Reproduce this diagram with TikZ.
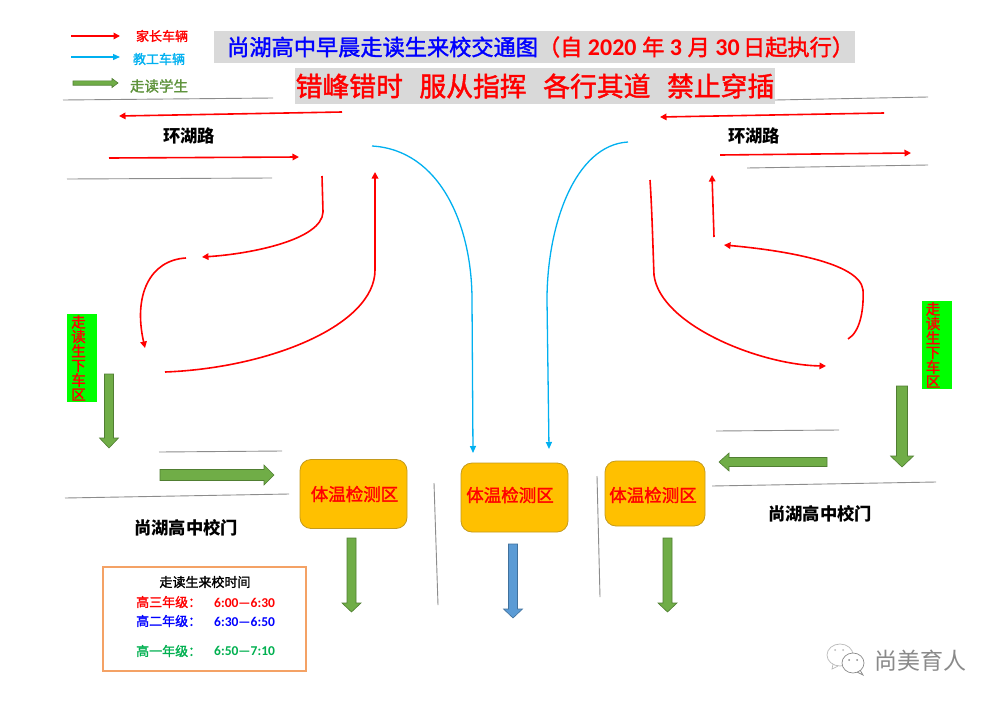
\documentclass[tikz,border=0pt]{standalone}
\usepackage{fontspec}
\setmainfont{Carlito}
\newfontfamily\cjk{Noto Sans CJK SC}
\newfontfamily\cjkm[FakeBold=1.6]{Noto Sans CJK SC}
\usetikzlibrary{arrows.meta,calc}
\definecolor{carred}{HTML}{FF0000}
\definecolor{staffblue}{HTML}{00B0F0}
\definecolor{walkgreen}{HTML}{70AD47}
\definecolor{walkedge}{HTML}{507E32}
\definecolor{roadgray}{HTML}{8C8C8C}
\definecolor{bannergray}{HTML}{D9D9D9}
\definecolor{gold}{HTML}{FFC000}
\definecolor{goldedge}{HTML}{C49A1C}
\definecolor{stepblue}{HTML}{5B9BD5}
\definecolor{stepedge}{HTML}{41719C}
\definecolor{timegreen}{HTML}{00B050}
\definecolor{timeorange}{HTML}{F4A265}
\definecolor{markgray}{HTML}{8A8A8A}
\newcommand{\fsz}[1]{\fontsize{#1}{#1}\selectfont}
\newcommand{\titlenum}[1]{{\normalfont\bfseries\fsz{24}#1}}
% block arrow between two named coordinates: style, a, b, half shaft, half head, head length
\newcommand{\blockarrow}[6][]{%
  \draw[#1] ($(#2)!#4pt!-90:(#3)$) -- ($($(#3)!#6pt!(#2)$)!#4pt!-90:(#3)$)
    -- ($($(#3)!#6pt!(#2)$)!#5pt!-90:(#3)$) -- (#3)
    -- ($($(#3)!#6pt!(#2)$)!#5pt!90:(#3)$) -- ($($(#3)!#6pt!(#2)$)!#4pt!90:(#3)$)
    -- ($(#2)!#4pt!90:(#3)$) -- cycle;}
\tikzset{
  road/.style={draw=roadgray,line width=0.9pt},
  caraw/.style={draw=carred,line width=1.6pt,-{Triangle[length=6.5pt,width=6.5pt]}},
  staffaw/.style={draw=staffblue,line width=1.3pt,-{Triangle[length=7pt,width=6pt]}},
  walkar/.style={fill=walkgreen,draw=walkedge,line width=0.6pt,line join=miter},
  tempar/.style={fill=stepblue,draw=stepedge,line width=0.6pt,line join=miter},
  tempbox/.style={draw=goldedge,fill=gold,line width=0.8pt,rounded corners=11pt,inner sep=0pt},
  templabel/.style={text=red,font=\cjkm\fsz{17.5},inner sep=0pt},
  legendtext/.style={font=\cjkm\fsz{13},inner sep=0pt},
  roadname/.style={font=\cjk\bfseries\fsz{17.3},text=black,inner sep=0pt},
  droplabel/.style={text=carred,font=\cjkm\fsz{14.5},inner sep=0pt,align=center},
  dropbox/.style={fill=green,inner sep=0pt},
  timetext/.style={font=\cjkm\fsz{13},inner sep=0pt},
  timenum/.style={font=\bfseries\fsz{13.5},inner sep=0pt},
  banner/.style={fill=bannergray,inner sep=0pt},
}
\begin{document}
\begin{tikzpicture}[x=1pt,y=-1pt]
\useasboundingbox[fill=white] (0,0) rectangle (1000,704);

% banners
\node[banner,minimum width=641pt,minimum height=32pt] (bannerA) at (534.5,47) {};
\node[banner,minimum width=480pt,minimum height=36pt] (bannerB) at (535,86) {};
\node[anchor=west,inner sep=0pt,font=\cjkm\fsz{22.2}] (title) at (227,47) {\textcolor{blue}{尚湖高中早晨走读生来校交通图}\textcolor{red}{（自\hspace{0.25em}\titlenum{2020}\hspace{0.25em}年\hspace{0.25em}\titlenum{3}\hspace{0.25em}月\hspace{0.25em}\titlenum{30}\hspace{0.15em}日起执行）}};
\node[inner sep=0pt,font=\cjkm\fsz{26.8},text=red] (slogan) at (535,86) {错峰错时\hspace{0.62em}服从指挥\hspace{0.62em}各行其道\hspace{0.62em}禁止穿插};

% legend
\coordinate (la) at (71,36); \coordinate (lb) at (120,36);
\coordinate (lc) at (71,57); \coordinate (ld) at (120,57);
\coordinate (le) at (73,83); \coordinate (lf) at (118,83);
\draw[caraw] (la) -- (lb);
\draw[staffaw] (lc) -- (ld);
\blockarrow[walkar]{le}{lf}{2.2}{4.5}{6}
\node[legendtext,text=red] (legA) at (162,36) {家长车辆};
\node[legendtext,text=staffblue] (legB) at (159,59) {教工车辆};
\node[legendtext,text=walkgreen!85!black,font=\cjkm\fsz{14.5}] (legC) at (159,86) {走读学生};

% roads
\coordinate (r1a) at (63,100);  \coordinate (r1b) at (273,98);
\coordinate (r2a) at (67,179);  \coordinate (r2b) at (272,178);
\coordinate (r3a) at (775,100); \coordinate (r3b) at (928,97);
\coordinate (r4a) at (747,168); \coordinate (r4b) at (928,165);
\coordinate (r5a) at (159,452); \coordinate (r5b) at (282,451);
\coordinate (r6a) at (65,498);  \coordinate (r6b) at (289,494);
\coordinate (r7a) at (716,431); \coordinate (r7b) at (839,430);
\coordinate (r8a) at (712,486); \coordinate (r8b) at (936,482);
\coordinate (r9a) at (434,483); \coordinate (r9b) at (438,605);
\coordinate (r10a) at (597,476); \coordinate (r10b) at (600,597);
\foreach \r in {r1,r2,r3,r4,r5,r6,r7,r8,r9,r10} \draw[road] (\r a) -- (\r b);

% ring road straight arrows
\coordinate (c1a) at (342,112); \coordinate (c1b) at (119,116);
\coordinate (c2a) at (109,158); \coordinate (c2b) at (299,157);
\coordinate (c3a) at (884,113); \coordinate (c3b) at (660,117);
\coordinate (c4a) at (720,155); \coordinate (c4b) at (911,153);
\coordinate (c5a) at (714,237); \coordinate (c5b) at (712,175);
\foreach \c in {c1,c2,c3,c4,c5} \draw[caraw] (\c a) -- (\c b);
\node[roadname] (ringL) at (189,136) {环湖路};
\node[roadname] (ringR) at (754,136) {环湖路};

% left curves
\coordinate (d1a) at (322,176); \coordinate (d1b) at (202,257);
\draw[caraw] (d1a) -- (323,212) .. controls (322,240) and (250,254) .. (d1b);
\coordinate (d2a) at (186,258); \coordinate (d2b) at (145,348);
\draw[caraw] (d2a) .. controls (150,260) and (133,295) .. (d2b);
\coordinate (d3a) at (165,372); \coordinate (d3b) at (375,172);
\draw[caraw] (d3a) .. controls (270,368) and (375,325) .. (375,270) -- (d3b);

% right curves
\coordinate (e1a) at (650,180); \coordinate (e1b) at (826,366);
\draw[caraw] (e1a) .. controls (652,210) and (653,250) .. (654,275) .. controls (660,325) and (760,365) .. (e1b);
\coordinate (e2a) at (848,339); \coordinate (e2b) at (724,245);
\draw[caraw] (e2a) .. controls (860,332) and (864,310) .. (863,290) .. controls (860,262) and (780,250) .. (e2b);

% staff curves
\coordinate (s1a) at (372,146); \coordinate (s1b) at (473,453);
\draw[staffaw] (s1a) .. controls (440,150) and (472,225) .. (472,300) -- (s1b);
\coordinate (s2a) at (628,142); \coordinate (s2b) at (549,449);
\draw[staffaw] (s2a) .. controls (575,145) and (547,225) .. (547,300) -- (s2b);

% drop-off zones
\node[dropbox,minimum width=30pt,minimum height=88pt] (dropL) at (82,358) {};
\node[droplabel] (dropLt) at (78.5,358) {走\\读\\生\\下\\车\\区};
\node[dropbox,minimum width=30pt,minimum height=88pt] (dropR) at (937,345) {};
\node[droplabel] (dropRt) at (933,345) {走\\读\\生\\下\\车\\区};

% walking arrows
\coordinate (w1a) at (109,374); \coordinate (w1b) at (109,448);
\blockarrow[walkar]{w1a}{w1b}{4.5}{9.5}{10}
\coordinate (w2a) at (160,475); \coordinate (w2b) at (274,475);
\blockarrow[walkar]{w2a}{w2b}{5.5}{10}{10}
\coordinate (w3a) at (902,386); \coordinate (w3b) at (902,467);
\blockarrow[walkar]{w3a}{w3b}{5.5}{11.5}{11}
\coordinate (w4a) at (827,462); \coordinate (w4b) at (719,462);
\blockarrow[walkar]{w4a}{w4b}{4.5}{9}{10}

% gate labels
\node[roadname] (gateL) at (186,528) {尚湖高中校门};
\node[roadname] (gateR) at (820,514) {尚湖高中校门};

% temperature boxes
\node[tempbox,minimum width=107pt,minimum height=69pt] (boxL) at (353.5,494) {};
\node[templabel] (boxLt) at (354.5,494) {体温检测区};
\node[tempbox,minimum width=107pt,minimum height=69pt] (boxM) at (514.5,497.5) {};
\node[templabel] (boxMt) at (510,495) {体温检测区};
\node[tempbox,minimum width=100pt,minimum height=65pt] (boxR) at (655,493.5) {};
\node[templabel] (boxRt) at (653,495) {体温检测区};

\coordinate (a1a) at (351.5,538); \coordinate (a1b) at (351.5,612);
\blockarrow[walkar]{a1a}{a1b}{4.5}{9.5}{9}
\coordinate (a2a) at (513,544); \coordinate (a2b) at (513,618);
\blockarrow[tempar]{a2a}{a2b}{4.5}{9.5}{9}
\coordinate (a3a) at (667.5,538); \coordinate (a3b) at (667.5,612);
\blockarrow[walkar]{a3a}{a3b}{4.5}{9.5}{9}

% timetable
\node[draw=timeorange,line width=1.2pt,minimum width=203pt,minimum height=104pt,inner sep=0pt] (timebox) at (204.5,619) {};
\node[timetext] (timehead) at (205,582) {走读生来校时间};
\node[timetext,text=red,anchor=west] (g3) at (136,602) {高三年级：};
\node[timenum,text=red,anchor=west] (t3) at (214,603) {6:00—6:30};
\node[timetext,text=blue,anchor=west] (g2) at (136,621) {高二年级：};
\node[timenum,text=blue,anchor=west] (t2) at (214,622) {6:30—6:50};
\node[timetext,text=timegreen,anchor=west] (g1) at (136,651) {高一年级：};
\node[timenum,text=timegreen,anchor=west] (t1) at (214,651) {6:50—7:10};

% watermark
\draw[markgray!60,line width=0.7pt,fill=white] (840,655) ellipse (13 and 11);
\draw[markgray!60,line width=0.7pt] (833,664) -- (832,669) -- (838,666);
\draw[markgray,line width=0.7pt,fill=white] (853,663) ellipse (11 and 10);
\draw[markgray,line width=0.7pt] (860,670) -- (863,675) -- (857,672);
\fill[markgray!60] (835,650) circle (1) (843,650) circle (1);
\fill[markgray] (849,660) circle (1) (857,660) circle (1);
\node[inner sep=0pt,font=\cjk\fsz{23},text=markgray] (mark) at (920,661) {尚美育人};
\end{tikzpicture}
\end{document}
